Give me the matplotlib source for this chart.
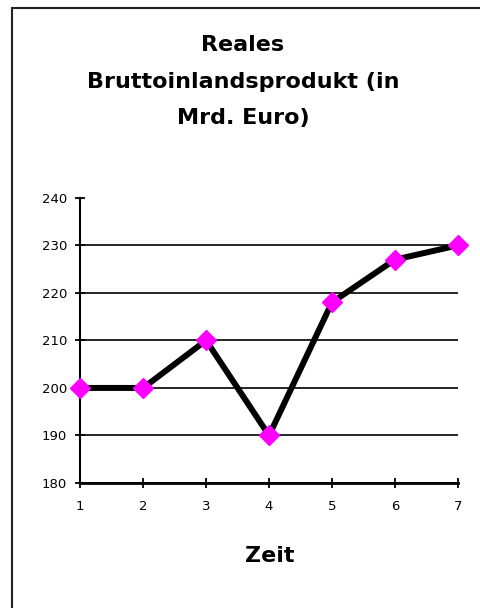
import matplotlib.pyplot as plt
from matplotlib.patches import Rectangle

# Data
zeit = [1, 2, 3, 4, 5, 6, 7]
bip = [200, 200, 210, 190, 218, 227, 230]
y_ticks = [180, 190, 200, 210, 220, 230, 240]

plt.rcParams['font.family'] = ['DejaVu Sans']

fig = plt.figure(figsize=(4.8, 6.08), dpi=100)
ax = fig.add_axes([0.167, 0.2056, 0.787, 0.469])

# outer chart frame (right and bottom edges fall outside the image)
fig.patches.append(Rectangle((12 / 480, -0.05), 1.2, 1 - 8 / 608 + 0.05,
                             transform=fig.transFigure, fill=False,
                             edgecolor='#222222', linewidth=1.5))

ax.plot(zeit, bip, color='black', linewidth=4.3, zorder=3, clip_on=False,
        marker='D', markersize=10, markerfacecolor='#ff00ff',
        markeredgecolor='#ff00ff')

ax.set_xlim(1, 7)
ax.set_ylim(180, 240)
ax.set_xticks(zeit)
ax.set_yticks(y_ticks)
ax.tick_params(axis='both', direction='inout', length=7, width=1.3,
               labelsize=9.5, colors='black')
ax.tick_params(axis='x', pad=9)
ax.tick_params(axis='y', pad=6)

ax.yaxis.grid(True, color='black', linewidth=1.2)
ax.yaxis.get_gridlines()[-1].set_visible(False)
ax.set_axisbelow(True)

for side in ['top', 'right']:
    ax.spines[side].set_visible(False)
ax.spines['left'].set_linewidth(1.5)
ax.spines['bottom'].set_linewidth(2)

title_font = dict(ha='center', va='center', fontsize=16, fontweight='bold')
fig.text(0.506, 1 - 45 / 608, 'Reales', **title_font)
fig.text(0.506, 1 - 82 / 608, 'Bruttoinlandsprodukt (in', **title_font)
fig.text(0.506, 1 - 118 / 608, 'Mrd. Euro)', **title_font)

fig.text(270 / 480, 1 - 556 / 608, 'Zeit', **title_font)

fig.savefig('out.png', dpi=100)
